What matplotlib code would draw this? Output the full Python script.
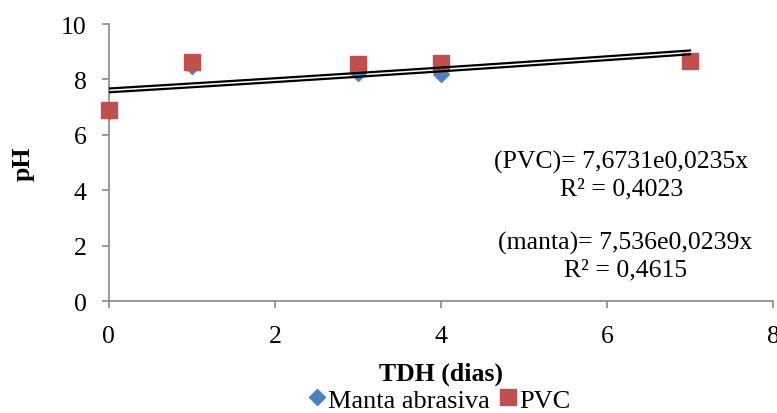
import numpy as np
import matplotlib.pyplot as plt

plt.rcParams['font.family'] = ['Liberation Serif', 'DejaVu Serif']

# TDH (dias) e pH medidos
tdh = [0, 1, 3, 4, 7]
ph_manta = [6.85, 8.5, 8.22, 8.2, 8.68]
ph_pvc = [6.9, 8.63, 8.56, 8.58, 8.66]

# coeficientes das linhas de tendência exponenciais (a * e^(b*x))
coef_pvc = (7.6731, 0.0235)
coef_manta = (7.536, 0.0239)
r2_pvc = 0.4023
r2_manta = 0.4615

fs = 18.5

fig = plt.figure(figsize=(7.77, 4.14), dpi=100)
ax = fig.add_axes([0.140, 0.2705, 0.855, 0.669])

ax.plot(tdh, ph_manta, linestyle='none', marker='D', markersize=8,
        color='#4F81BD', label='Manta abrasiva', zorder=3, clip_on=False)
ax.plot(tdh, ph_pvc, linestyle='none', marker='s', markersize=11,
        color='#C0504D', label='PVC', zorder=4, clip_on=False)

xs = np.linspace(0, 7, 50)
for a, b in (coef_pvc, coef_manta):
    ax.plot(xs, a * np.exp(b * xs), color='black', linewidth=1.6, zorder=5)

ax.set_xlim(0, 8)
ax.set_ylim(0, 10)
ax.set_xticks([0, 2, 4, 6, 8])
ax.set_yticks([0, 2, 4, 6, 8, 10])

for side in ('top', 'right'):
    ax.spines[side].set_visible(False)
for side in ('left', 'bottom'):
    ax.spines[side].set_color('#868686')
    ax.spines[side].set_linewidth(1.2)
ax.tick_params(axis='both', colors='#868686', labelcolor='black',
               labelsize=fs, length=5, width=1.2, direction='out')
ax.tick_params(axis='x', pad=12)
ax.tick_params(axis='y', pad=11)

ax.set_xlabel('TDH (dias)', fontsize=fs, fontweight='bold', labelpad=11)
ax.set_ylabel('pH', fontsize=fs, fontweight='bold', labelpad=19)

ax.text(6.17, 5.05, '(PVC)= 7,6731e0,0235x', fontsize=fs, ha='center', va='center')
ax.text(6.17, 4.07, 'R² = ' + f'{r2_pvc:.4f}'.replace('.', ','), fontsize=fs,
        ha='center', va='center')
ax.text(6.22, 2.1, '(manta)= 7,536e0,0239x', fontsize=fs, ha='center', va='center')
ax.text(6.22, 1.13, 'R² = ' + f'{r2_manta:.4f}'.replace('.', ','), fontsize=fs,
        ha='center', va='center')

fig.legend(loc='lower center', bbox_to_anchor=(0.566, -0.054), ncol=2,
           frameon=False, fontsize=19, handlelength=0.6, handletextpad=0.1,
           columnspacing=0.4)

fig.savefig('out.png', dpi=100)
